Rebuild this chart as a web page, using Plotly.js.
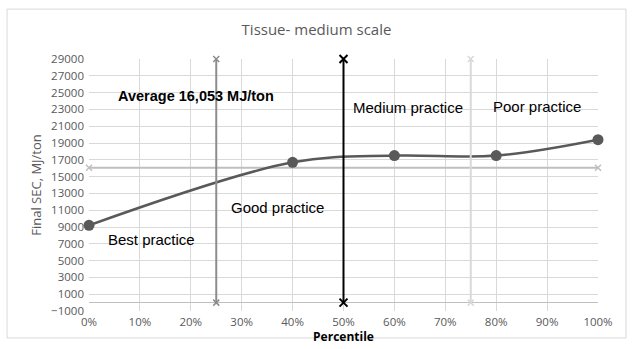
<!DOCTYPE html>
<html>
<head>
<meta charset="utf-8">
<script src="https://cdn.plot.ly/plotly-3.0.1.min.js"></script>
<style>
  html, body { margin: 0; padding: 0; background: #fff; }
  #chart { width: 633px; height: 349px; }
</style>
</head>
<body>
<div id="chart"></div>
<script>
// percentile points and final SEC (MJ/ton)
const percentiles = [0, 0.4, 0.6, 0.8, 1.0];
const secValues = [9200, 16700, 17500, 17500, 19400];

const averageSec = 16053;
const averageSpan = [0, 1];

// quartile boundary lines
const quartileX = [0.25, 0.5, 0.75];
const quartileSpan = [0, 29000];

const labels = ["Average 16,053 MJ/ton", "Medium practice", "Poor practice", "Good practice", "Best practice"];

const quartileColors = ["#8c8c8c", "#000000", "#d9d9d9"];

const traces = [];

traces.push({
    x: averageSpan,
    y: averageSpan.map(() => averageSec),
    mode: "lines+markers",
    cliponaxis: false,
    line: { color: "#bfbfbf", width: 2 },
    marker: { symbol: "x-thin", size: 6, line: { color: "#bfbfbf", width: 1.5 } },
    hoverinfo: "skip"
});

traces.push({
    x: percentiles,
    y: secValues,
    mode: "lines+markers",
    cliponaxis: false,
    line: { color: "#595959", width: 2.5, shape: "spline", smoothing: 1 },
    marker: { color: "#595959", size: 11 }
});

quartileX.forEach((q, i) => {
    traces.push({
        x: quartileSpan.map(() => q),
        y: quartileSpan,
        mode: "lines+markers",
        cliponaxis: false,
        line: { color: quartileColors[i], width: 2 },
        marker: { symbol: "x-thin", size: i === 1 ? 8 : 6, line: { color: quartileColors[i], width: i === 1 ? 2 : 1.5 } },
        hoverinfo: "skip"
    });
});

const annotations = [
    { x: 0.21, y: 24600, font: { family: "Liberation Sans, Arial", size: 14.5, color: "#000" }, bold: true },
    { x: 0.627, y: 23170, font: { family: "Liberation Sans, Arial", size: 15, color: "#000" } },
    { x: 0.88, y: 23290, font: { family: "Liberation Sans, Arial", size: 15, color: "#000" } },
    { x: 0.371, y: 11380, font: { family: "Liberation Sans, Arial", size: 15, color: "#000" } },
    { x: 0.122, y: 7570, font: { family: "Liberation Sans, Arial", size: 15, color: "#000" } }
].map((a, i) => ({
    x: a.x,
    y: a.y,
    xref: "x",
    yref: "y",
    text: a.bold ? "<b>" + labels[i] + "</b>" : labels[i],
    showarrow: false,
    font: a.font
}));

const layout = {
    width: 633,
    height: 349,
    margin: { l: 89, r: 35, t: 59, b: 38 },
    paper_bgcolor: "#fff",
    plot_bgcolor: "#fff",
    showlegend: false,
    title: {
        text: "Tissue- medium scale",
        font: { family: "Open Sans", size: 15, color: "#595959" },
        x: 0.5,
        xanchor: "center",
        y: 0.915,
        yanchor: "middle"
    },
    xaxis: {
        range: [0, 1],
        tick0: 0,
        dtick: 0.1,
        tickformat: ".0%",
        showgrid: true,
        gridcolor: "#d9d9d9",
        gridwidth: 1,
        zeroline: false,
        showline: false,
        ticks: "",
        ticklabelstandoff: 2,
        tickfont: { family: "Open Sans", size: 11.5, color: "#595959" },
        title: {
            text: "<b>Percentile</b>",
            font: { family: "Open Sans", size: 12, color: "#000" },
            standoff: 0
        },
        automargin: false,
        fixedrange: true
    },
    yaxis: {
        range: [-1000, 29000],
        tick0: -1000,
        dtick: 2000,
        tickformat: "d",
        showgrid: true,
        gridcolor: "#d9d9d9",
        gridwidth: 1,
        zeroline: true,
        zerolinecolor: "#bfbfbf",
        zerolinewidth: 1.5,
        showline: false,
        ticks: "",
        ticklabelstandoff: 4,
        tickfont: { family: "Open Sans", size: 11.5, color: "#595959" },
        title: {
            text: "Final SEC, MJ/ton",
            font: { family: "Open Sans", size: 13, color: "#595959" },
            standoff: 6
        },
        automargin: false,
        fixedrange: true
    },
    shapes: [{
        type: "rect",
        xref: "paper",
        yref: "paper",
        x0: -0.161, x1: 1.055,
        y0: -0.107, y1: 1.198,
        line: { color: "#d9d9d9", width: 1 },
        fillcolor: "rgba(0,0,0,0)",
        layer: "below"
    }],
    annotations: annotations
};

Plotly.newPlot("chart", traces, layout, { displayModeBar: false, staticPlot: true });
</script>
</body>
</html>
